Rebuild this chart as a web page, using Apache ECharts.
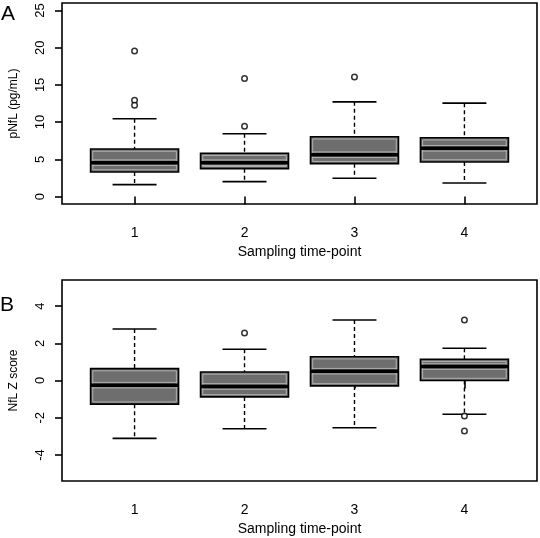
<!DOCTYPE html>
<html>
<head>
<meta charset="utf-8">
<script src="https://cdn.jsdelivr.net/npm/echarts@6/dist/echarts.min.js"></script>
<style>html,body{margin:0;padding:0;background:#fff}#c{width:540px;height:538px}</style>
</head>
<body>
<div id="c"></div>
<script>
// ---- data ----
const timePoints = [1, 2, 3, 4];
const xTickLabels = ['1', '2', '3', '4'];
// [lower whisker, Q1, median, Q3, upper whisker]
const pnflStats = [
  [1.6, 3.3, 4.55, 6.38, 10.45],
  [2.0, 3.75, 4.55, 5.81, 8.44],
  [2.46, 4.42, 5.62, 8.03, 12.72],
  [1.83, 4.65, 6.48, 7.9, 12.55]
];
const pnflOutlierX = [1, 1, 1, 2, 2, 3];
const pnflOutlierY = [19.55, 12.95, 12.25, 15.86, 9.43, 16.07];
const zStats = [
  [-3.11, -1.27, -0.25, 0.64, 2.77],
  [-2.59, -0.88, -0.32, 0.46, 1.68],
  [-2.54, -0.29, 0.5, 1.28, 3.25],
  [-1.81, 0.0, 0.75, 1.14, 1.73]
];
const zOutlierX = [2, 4, 4, 4];
const zOutlierY = [2.55, 3.25, -1.91, -2.72];
const pnflTicks = [0, 5, 10, 15, 20, 25];
const zTicks = [-4, -2, 0, 2, 4];

// ---- build ----
const FONT = 'Liberation Sans, Arial, sans-serif';
const boxData = s => timePoints.map((x, i) => [x].concat(s[i]));
const pts = (xs, ys) => xs.map((x, i) => [x, ys[i]]);

function renderBox(params, api) {
  const x = api.value(0), lo = api.value(1), q1 = api.value(2), med = api.value(3), q3 = api.value(4), hi = api.value(5);
  const hw = 0.4, cw = 0.2;
  const tl = api.coord([x - hw, q3]), br = api.coord([x + hw, q1]);
  const cx = api.coord([x, med])[0];
  const yMed = api.coord([x, med])[1];
  const yLo = api.coord([x, lo])[1], yHi = api.coord([x, hi])[1];
  const cL = api.coord([x - cw, 0])[0], cR = api.coord([x + cw, 0])[0];
  const dash = { stroke: '#000', lineWidth: 1.4, lineDash: [4, 3] };
  const solid = { stroke: '#000', lineWidth: 1.6 };
  const w = br[0] - tl[0], h = br[1] - tl[1];
  return {
    type: 'group',
    children: [
      { type: 'line', shape: { x1: cx, y1: yHi, x2: cx, y2: tl[1] }, style: dash },
      { type: 'line', shape: { x1: cx, y1: br[1], x2: cx, y2: yLo }, style: dash },
      { type: 'line', shape: { x1: cL, y1: yHi, x2: cR, y2: yHi }, style: solid },
      { type: 'line', shape: { x1: cL, y1: yLo, x2: cR, y2: yLo }, style: solid },
      { type: 'rect', shape: { x: tl[0], y: tl[1], width: w, height: h }, style: { fill: '#6e6e6e', stroke: '#000', lineWidth: 1.6 } },
      { type: 'rect', shape: { x: tl[0] + 2.2, y: tl[1] + 2.2, width: w - 4.4, height: h - 4.4 }, style: { fill: null, stroke: '#c0c0c0', lineWidth: 0.8 } },
      { type: 'line', shape: { x1: tl[0] + 2, y1: yMed - 2.8, x2: br[0] - 2, y2: yMed - 2.8 }, style: { stroke: '#c0c0c0', lineWidth: 0.8 } },
      { type: 'line', shape: { x1: tl[0] + 2, y1: yMed + 2.8, x2: br[0] - 2, y2: yMed + 2.8 }, style: { stroke: '#c0c0c0', lineWidth: 0.8 } },
      { type: 'line', shape: { x1: tl[0], y1: yMed, x2: br[0], y2: yMed }, style: { stroke: '#000', lineWidth: 3.5 } }
    ]
  };
}

function xAxis(idx) {
  return {
    type: 'value', gridIndex: idx, min: 0.34, max: 4.66,
    name: 'Sampling time-point', nameLocation: 'middle', nameGap: 41,
    nameTextStyle: { fontFamily: FONT, fontSize: 14, color: '#000' },
    axisLine: { show: false },
    axisTick: { show: true, inside: false, length: 8, customValues: timePoints, lineStyle: { color: '#000', width: 1.6 } },
    axisLabel: { customValues: timePoints, margin: 22, fontFamily: FONT, fontSize: 14, color: '#000',
      formatter: v => xTickLabels[timePoints.indexOf(v)] },
    splitLine: { show: false }
  };
}
function yAxis(idx, min, max, ticks, name) {
  return {
    type: 'value', gridIndex: idx, min: min, max: max,
    name: name, nameLocation: 'middle', nameGap: 42, nameRotate: 90,
    nameTextStyle: { fontFamily: FONT, fontSize: 12, color: '#000' },
    axisLine: { show: false },
    axisTick: { show: true, length: 7, customValues: ticks, lineStyle: { color: '#000', width: 1.6 } },
    axisLabel: { customValues: ticks, rotate: 90, margin: 15, fontFamily: FONT, fontSize: 13, color: '#000' },
    splitLine: { show: false }
  };
}

const outlierStyle = { color: '#fff', borderColor: '#000', borderWidth: 1.5 };

const option = {
  animation: false,
  backgroundColor: '#fff',
  graphic: [
    { type: 'text', left: 1, top: 4, style: { text: 'A', fontFamily: FONT, fontSize: 21, fill: '#000' } },
    { type: 'text', left: 0, top: 295, style: { text: 'B', fontFamily: FONT, fontSize: 21, fill: '#000' } }
  ],
  grid: [
    { left: 62, top: 3, width: 475, height: 201, show: true, borderColor: '#000', borderWidth: 1.6, backgroundColor: 'transparent' },
    { left: 62, top: 280, width: 475, height: 201, show: true, borderColor: '#000', borderWidth: 1.6, backgroundColor: 'transparent' }
  ],
  xAxis: [xAxis(0), xAxis(1)],
  yAxis: [yAxis(0, -1, 26, pnflTicks, 'pNfL (pg/mL)'), yAxis(1, -5.4, 5.4, zTicks, 'NfL Z score')],
  series: [
    { type: 'custom', xAxisIndex: 0, yAxisIndex: 0, renderItem: renderBox, data: boxData(pnflStats), encode: { x: 0, y: [1, 2, 3, 4, 5] } },
    { type: 'scatter', xAxisIndex: 0, yAxisIndex: 0, symbol: 'circle', symbolSize: 5.5, itemStyle: outlierStyle, data: pts(pnflOutlierX, pnflOutlierY) },
    { type: 'custom', xAxisIndex: 1, yAxisIndex: 1, renderItem: renderBox, data: boxData(zStats), encode: { x: 0, y: [1, 2, 3, 4, 5] } },
    { type: 'scatter', xAxisIndex: 1, yAxisIndex: 1, symbol: 'circle', symbolSize: 5.5, itemStyle: outlierStyle, data: pts(zOutlierX, zOutlierY) }
  ]
};
const chart = echarts.init(document.getElementById('c'), null, { renderer: 'canvas' });
chart.setOption(option);
</script>
</body>
</html>
